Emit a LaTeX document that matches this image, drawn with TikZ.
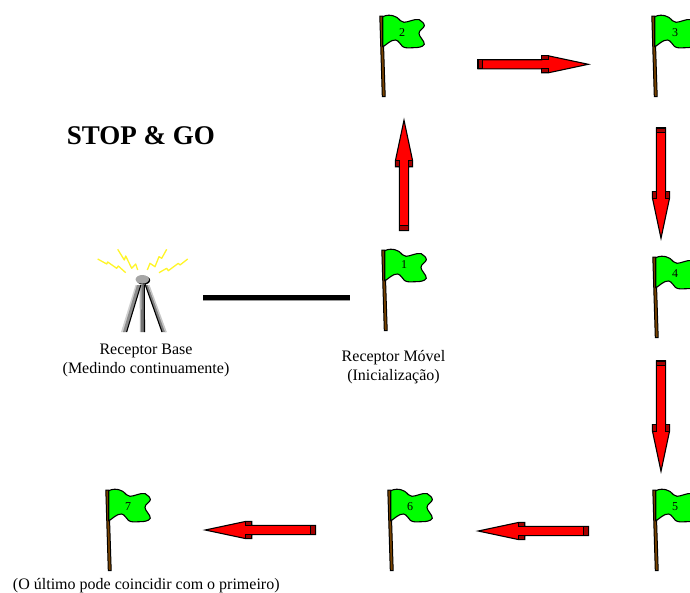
\documentclass[tikz,border=0pt]{standalone}
\usepackage{fontspec}
\setmainfont{Liberation Serif}
\definecolor{flaggreen}{RGB}{0,255,0}
\definecolor{polebrown}{RGB}{120,66,0}
\definecolor{boltyellow}{RGB}{255,245,40}
\definecolor{darkred}{RGB}{165,0,0}
\tikzset{
  x=1pt,y=-1pt,
  flagpic/.pic={
    \draw[black,fill=polebrown,line width=1] (-1.2,0) -- (1.6,0) -- (4.2,80.7) -- (1.3,80.7) -- cycle;
    \draw[black,fill=flaggreen,line width=1.1,line join=round]
      (1.7,0.7) .. controls (5,-0.8) and (10,-2) .. (15.7,1.3)
      .. controls (19,3.5) and (20,6.5) .. (23,6.3)
      .. controls (28,6.2) and (33,2.5) .. (38.3,3.7)
      .. controls (41,5) and (43.5,8) .. (43.3,9.7)
      .. controls (43,12.5) and (38,14) .. (38,17.3)
      .. controls (38,21) and (43.5,24.5) .. (43.3,28.3)
      .. controls (42,31) and (37,31.8) .. (32.3,31.7)
      .. controls (28,31.8) and (24.5,32.5) .. (21.5,30.5)
      .. controls (19,28.5) and (18,24.5) .. (14.5,24)
      .. controls (10,23.5) and (5,29) .. (1.7,31) -- cycle;
  },
  flagnum/.style={font=\fontsize{12}{14}\selectfont,inner sep=0pt},
  caption/.style={font=\fontsize{16}{18.4}\selectfont,align=center,inner sep=0pt},
  blockarrow/.pic={
    \draw[black,fill=red,line width=1.1,line join=miter]
      (0,-4.6) -- (63.7,-4.6) -- (63.7,-8.5) -- (70.3,-8.5) -- (110.3,0)
      -- (70.3,8.5) -- (63.7,8.5) -- (63.7,4.6) -- (0,4.6) -- cycle;
    \draw[black,fill=darkred,line width=1.1] (0,-4.6) rectangle (4.7,4.6);
    \draw[black,fill=darkred,line width=1.1] (63.7,-8.5) rectangle (70.3,-4.6);
    \draw[black,fill=darkred,line width=1.1] (63.7,4.6) rectangle (70.3,8.5);
  },
  bolt/.style={boltyellow,line width=1.3,line join=round},
  legedge/.style={black,line width=1.1},
  linkline/.style={black,line width=5},
}
\begin{document}
\begin{tikzpicture}[x=1pt,y=-1pt]
\useasboundingbox (0,0) rectangle (690,592);
% flags
\pic at (383,250) {flagpic};
\pic at (381,16) {flagpic};
\pic at (653,16) {flagpic};
\pic at (654,257) {flagpic};
\pic at (654,490) {flagpic};
\pic at (389,490) {flagpic};
\pic at (107,490) {flagpic};
\node[flagnum] (n1) at (404,265) {1};
\node[flagnum] (n2) at (402,33) {2};
\node[flagnum] (n3) at (675,33) {3};
\node[flagnum] (n4) at (675,274) {4};
\node[flagnum] (n5) at (675,507) {5};
\node[flagnum] (n6) at (410,507) {6};
\node[flagnum] (n7) at (128,507) {7};
% arrows
\pic[rotate=90] at (404,230.5) {blockarrow};
\pic at (478,64.3) {blockarrow};
\pic[rotate=-90] at (661,128) {blockarrow};
\pic[rotate=-90] at (661,361) {blockarrow};
\pic[rotate=180] at (588.5,531) {blockarrow};
\pic[rotate=180] at (315.5,530) {blockarrow};
% link
\coordinate (baseend) at (203.3,297.5);
\coordinate (flagend) at (350,297.5);
\draw[black!40,line width=1] (203.3,300) -- (350,300);
\draw[linkline] (baseend) -- (flagend);
% tripod
\fill[black!18] (135.5,285) -- (137.5,285) -- (125,332) -- (121,332) -- cycle;
\fill[black!45] (137,285) -- (140.5,285) -- (126.8,332) -- (123,332) -- cycle;
\fill[black!30] (139.5,285) -- (141.5,285) -- (141.2,332) -- (140,332) -- cycle;
\fill[black!55] (141.3,285) -- (144,285) -- (144.3,332) -- (141.2,332) -- cycle;
\fill[black!50] (145.5,285) -- (148,285) -- (166,332) -- (162,332) -- cycle;
\fill[black!22] (148,285) -- (149.5,285) -- (166.8,332) -- (165,332) -- cycle;
\draw[legedge] (140.8,285) -- (126.6,332);
\draw[legedge] (144.3,285) -- (144.5,332);
\draw[legedge] (145,284) -- (162,332);
\fill[black] (143.5,280.3) ellipse (6.7 and 4.3);
\fill[black!35] (142.3,279.3) ellipse (6.7 and 4.3);
% signal
\draw[bolt] (97.7,259) -- (106.7,264) -- (107.7,262) -- (116.7,268.3) -- (118.3,266) -- (125.7,272.7);
\draw[bolt] (117.7,249.3) -- (124.3,260) -- (125.7,256) -- (131.7,268.3) -- (135.7,264) -- (137.7,270);
\draw[bolt] (147.3,270) -- (150,263.3) -- (155,266.7) -- (159,256.7) -- (161.7,258.3) -- (166.7,249.3);
\draw[bolt] (159,272.7) -- (166.7,268.3) -- (168.3,270.7) -- (178.3,263.3) -- (180,265) -- (187.7,259);
% text
\node[font=\bfseries\fontsize{27}{30}\selectfont,inner sep=0pt,anchor=base] (title) at (140.8,144.3) {STOP \& GO};
\node[caption] (base) at (146,360.4) {Receptor Base\\(Medindo continuamente)};
\node[caption] (movel) at (393.5,367.1) {Receptor Móvel\\(Inicialização)};
\node[caption,anchor=base] (last) at (146.3,589.5) {(O último pode coincidir com o primeiro)};
\end{tikzpicture}
\end{document}
